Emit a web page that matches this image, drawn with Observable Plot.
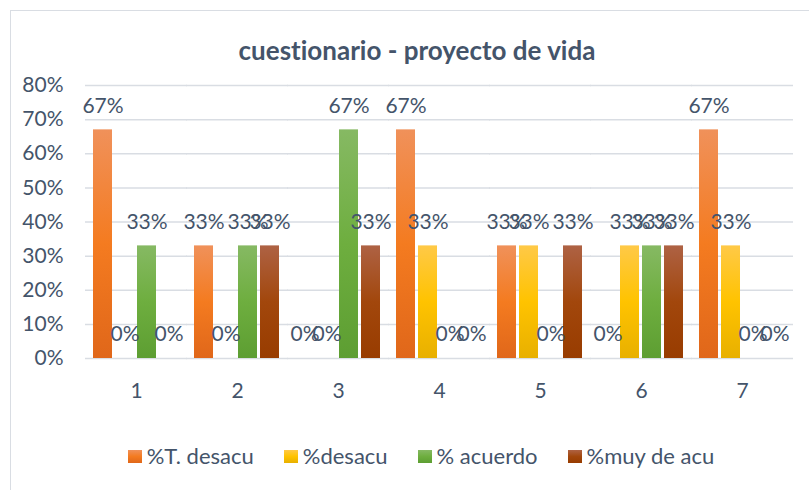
<!DOCTYPE html>
<html>
<head>
<meta charset="utf-8">
<script src="https://cdn.jsdelivr.net/npm/d3@7"></script>
<script src="https://cdn.jsdelivr.net/npm/@observablehq/plot@0.6"></script>
<style>
  html, body { margin: 0; padding: 0; background: #fff; width: 809px; height: 490px; overflow: hidden; }
  body { font-family: Lato, "Open Sans", sans-serif; color: #44546a; position: relative; font-variant-ligatures: none; }
  #frame { position: absolute; left: 10px; top: 10px; width: 830px; height: 520px; border: 1.5px solid #d9dde3; box-sizing: border-box; }
  #title { position: absolute; left: 0; width: 834px; top: 34px; text-align: center; font-weight: bold; font-size: 26px; line-height: 32px; }
  #chart { position: absolute; left: 0; top: 70px; }
  #legend { position: absolute; left: 0; width: 842px; top: 443px; display: flex; justify-content: center; align-items: center; font-size: 22px; line-height: 26px; }
  .item { display: flex; align-items: center; margin: 0 15px; }
  .sw { width: 14px; height: 13px; margin-right: 5px; }
  svg text { font-variant-ligatures: none; }
</style>
</head>
<body>
<div id="frame"></div>
<div id="title">cuestionario - proyecto de vida</div>
<div id="chart"></div>
<div id="legend"></div>
<script>
const categories = ["1", "2", "3", "4", "5", "6", "7"];
const seriesNames = ["%T. desacu", "%desacu", "% acuerdo", "%muy de acu"];
const tDesacu  = [0.67, 0.33, 0.00, 0.67, 0.33, 0.00, 0.67];
const desacu   = [0.00, 0.00, 0.00, 0.33, 0.33, 0.33, 0.33];
const acuerdo  = [0.33, 0.33, 0.67, 0.00, 0.00, 0.33, 0.00];
const muyDeAcu = [0.00, 0.33, 0.33, 0.00, 0.33, 0.33, 0.00];
const yTicks = [0, 0.1, 0.2, 0.3, 0.4, 0.5, 0.6, 0.7, 0.8];

const gradients = [
  ["gOrange", "#f0915a", "#f47b20", "#e0671a"],
  ["gYellow", "#ffc947", "#ffc300", "#e8b000"],
  ["gGreen",  "#86b963", "#6eae3f", "#5d9e32"],
  ["gBrown",  "#ae6244", "#a2470c", "#983c00"]
];

const seriesValues = [tDesacu, desacu, acuerdo, muyDeAcu];
const data = [];
categories.forEach((c, i) => {
  seriesNames.forEach((s, j) => data.push({cat: c, series: s, value: seriesValues[j][i]}));
});

const pct = d3.format(".0%");
const textColor = "#44546a";

const plot = Plot.plot({
  width: 809,
  height: 345,
  marginLeft: 84,
  marginRight: 16,
  marginTop: 15,
  marginBottom: 57,
  style: {fontFamily: "Lato, 'Open Sans', sans-serif", fontSize: "21px", color: textColor, background: "transparent"},
  fx: {domain: categories, paddingInner: 0.13, paddingOuter: 0.065, label: null, axis: null},
  x: {domain: seriesNames, paddingInner: 0.136, paddingOuter: 0.068, axis: null},
  y: {domain: [0, 0.8], axis: null},
  color: {domain: seriesNames, range: gradients.map(g => `url(#${g[0]})`)},
  marks: [
    Plot.ruleY(yTicks, {y: d => d, stroke: "#d9dde3", strokeWidth: 1.5, insetLeft: -7, insetRight: -7}),
    Plot.axisY(yTicks, {tickFormat: pct, tickSize: 0, tickPadding: 29, fontSize: 21, color: textColor, label: null}),
    Plot.axisFx({anchor: "bottom", tickSize: 0, tickPadding: 25, fontSize: 21, color: textColor, label: null}),
    Plot.barY(data, {fx: "cat", x: "series", y: "value", fill: "series"}),
    Plot.text(data, {fx: "cat", x: "series", y: "value", text: d => pct(d.value), dy: -24, fontSize: 21, fill: textColor})
  ]
});

const defs = d3.select(plot).insert("defs", ":first-child");
gradients.forEach(([id, c0, c1, c2]) => {
  const lg = defs.append("linearGradient").attr("id", id).attr("x1", 0).attr("y1", 0).attr("x2", 0).attr("y2", 1);
  lg.append("stop").attr("offset", "0%").attr("stop-color", c0);
  lg.append("stop").attr("offset", "50%").attr("stop-color", c1);
  lg.append("stop").attr("offset", "100%").attr("stop-color", c2);
});
document.getElementById("chart").appendChild(plot);

const legend = d3.select("#legend");
seriesNames.forEach((s, i) => {
  const g = gradients[i];
  const it = legend.append("div").attr("class", "item");
  it.append("div").attr("class", "sw").style("background", `linear-gradient(${g[1]}, ${g[2]}, ${g[3]})`);
  it.append("span").text(s);
});
</script>
</body>
</html>
